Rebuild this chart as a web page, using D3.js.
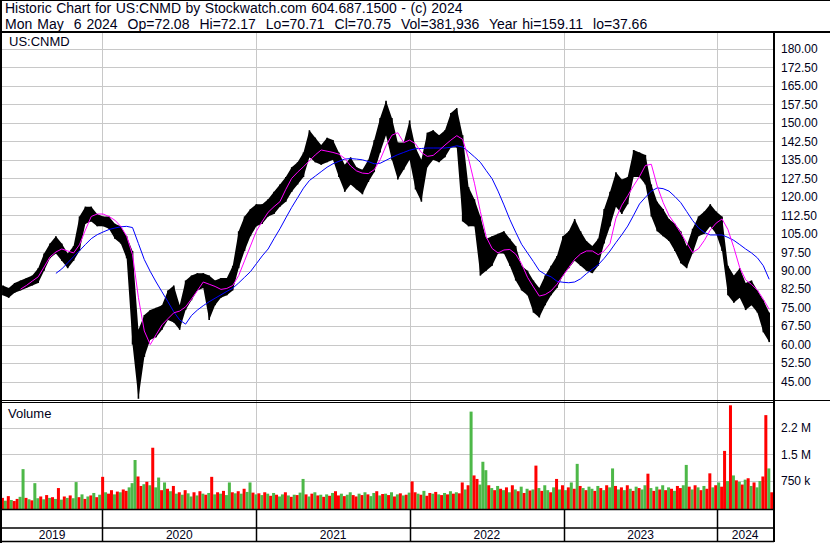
<!DOCTYPE html>
<html><head><meta charset="utf-8">
<script src="https://cdn.jsdelivr.net/npm/d3@7"></script>
<style>
body{margin:0;background:#fff;}
svg{display:block;font-family:Arial,"Liberation Sans",sans-serif;}
text{white-space:pre;}
</style>
</head><body>
<svg id="c" width="830" height="543"></svg>
<script>
// ---------------- data ----------------
const headerLine1 = "Historic Chart for US:CNMD by Stockwatch.com 604.687.1500 - (c) 2024";
const headerLine2 = "Mon May  6 2024  Op=72.08  Hi=72.17  Lo=70.71  Cl=70.75  Vol=381,936  Year hi=159.11  lo=37.66";
const symbol = "US:CNMD";

// price samples, one every 14 days starting at priceStart
const priceStart = "2019-05-10";
const priceStepDays = 14;
const priceHi = [84,83,85,86,87,88,91,97,101,104,
  101,97,100,112,116,116,113,112,112,109,
  108,104,98,66,72,74,75,76,82,84,
  76,86,88,89,89,88,86,87,87,92,
  106,112,115,117,117,119,122,125,128,132,
  134,138,147,144,141,144,143,138,133,136,
  132,131,135,143,152,159,152,142,142,151,
  140,135,146,147,145,147,154,156,145,124,
  119,112,103,104,105,106,103,100,92,90,
  86,83,88,92,96,104,106,111,106,102,
  100,103,115,122,130,127,128,139,138,137,
  125,118,115,111,109,106,100,107,112,114,
  117,114,112,92,88,91,85,86,82,78,
  73];
const priceLo = [80,79,81,82,83,84,85,90,95,97,
  94,91,94,98,109,110,108,108,107,103,
  101,95,60,38,55,62,63,66,70,69,
  66,74,78,82,83,70,76,79,80,82,
  91,98,104,108,109,112,113,116,118,122,
  125,128,136,134,133,134,135,128,122,125,
  123,121,126,130,138,145,135,127,131,135,
  123,118,132,135,134,136,140,140,110,108,
  108,88,90,92,97,97,92,86,82,80,
  73,71,76,80,83,88,91,94,92,90,
  89,92,101,108,116,113,117,128,128,125,
  112,106,104,102,98,93,91,97,104,105,
  108,105,98,80,77,79,74,76,73,65,
  61];
// moving averages read at the same sample dates
const maShort = [null,null,null,82.5,84,85.8,87.5,91.5,95.6,97.6,
  98.8,98,97.2,100.5,106.5,112,113,113,112,110.5,
  108,104,96.5,79,65.5,60,64,68,70.5,72.9,
  73.6,75.3,78.5,81.9,85.4,84.5,83.6,82.4,82.8,84,
  88,94,100,106,110,113.7,116,118,123,127.5,
  130,132.2,134.6,137,139,138.5,138,137.3,135.6,132.5,
  130.5,129.6,129.4,131,135,140.7,145,146,142,143,
  141.5,138,136.4,136.8,138.8,141,143,144.8,143.3,135.5,
  125.5,114,103.7,99,97.2,98.4,98.6,96.7,92.8,87.3,
  83.4,79.7,80.3,81.8,84.5,87.9,91.3,94.6,96.8,98,
  98,96.5,98,101,111.3,116.6,120.4,124.5,128.2,132.7,
  133.2,124.4,117.7,112.4,109,105.3,101.3,97.4,98.9,102.3,
  106.5,109.3,111,106.7,99.4,91.2,86.3,84.4,82.1,78.4,
  74.3];
const maLong = [null,null,null,null,null,null,null,null,null,88.9,
  90.7,93.2,95.7,98.1,100.6,103,104.6,105.7,106.7,107.3,
  107.8,108,107.5,101,94.5,89.7,85.4,81.4,77.4,73.3,
  70,68.3,71.8,74,75.8,77.4,78.8,80.2,81.6,82.9,
  85,87.3,89.6,92.8,96,98.8,103,107,111.4,115.7,
  119.6,123.5,126.6,128.4,130.2,132,133.4,134.4,135.3,135.5,
  135.3,135,134.3,133.4,133.6,134.8,136,137.1,138,138.9,
  139.5,139.6,139.8,139.8,139.8,139.8,140.1,140.7,140.2,138.3,
  136.2,134,130.6,127.3,122.3,116.7,110.8,105.6,100.7,97.2,
  93.7,90,88.5,87.5,85.7,85.3,85.1,85.4,86.7,88.8,
  90.6,92.4,95,98,101.4,104.6,108.1,112.5,117.1,119.8,
  122.3,123.6,123.3,122.3,120.1,117.6,114,110.4,107.4,105.5,
  104.5,104.5,104.5,103.5,102.3,100.6,98.8,97.2,95.2,92,
  86.5];

// weekly peak volume (thousands), one every 7 days from volStart
const volStart = "2019-05-09";
const volStepDays = 7;
const volume = [260,180,310,200,170,230,290,1080,260,220,
  190,680,250,300,220,340,260,280,230,540,
  210,300,260,330,250,710,280,360,230,300,
  330,400,280,350,860,420,380,480,360,440,
  420,500,460,560,680,1340,870,600,650,720,
  620,1690,560,840,480,700,520,450,600,380,
  420,350,480,390,300,420,330,450,380,350,
  400,860,360,420,380,460,340,700,420,390,
  450,380,520,430,700,410,360,390,340,420,
  380,320,400,350,300,360,420,330,290,350,
  340,410,800,360,300,380,420,330,350,290,
  360,320,400,450,330,380,310,350,420,340,
  300,380,340,420,360,310,400,450,330,370,
  380,340,420,300,360,390,330,350,410,730,
  420,380,350,460,320,400,380,430,360,340,
  400,360,450,380,420,390,700,500,620,2720,
  900,800,640,1290,1050,620,540,480,600,520,
  480,560,420,620,500,450,580,400,520,470,
  500,1180,540,460,620,480,420,560,800,500,
  620,480,560,700,520,1230,600,540,480,580,
  520,460,600,540,480,620,560,1100,600,500,
  560,480,620,520,460,580,540,500,620,950,
  540,460,580,500,620,480,560,520,460,600,
  540,620,1200,580,500,620,560,480,600,520,
  960,560,620,700,580,1600,740,2900,900,760,
  720,640,780,820,600,700,560,740,870,2620,
  1100,420];
const volColor = "rgrgrrggrg"+"rggrgrgrgr"+"grgrggrgrg"+"rgrgrgrrgr"+"grrgggrrgr"+
  "grggrgrgrg"+"rgrggrgrgr"+"grgrgrggrg"+"rgrggrgrgr"+"grgrggrgrg"+
  "rggrgrgrgr"+"grgrrgrggr"+"rgrgrggrgr"+"grgrgrgrgr"+"rgrgrrgrgr"+
  "grgrgrrgrg"+"rrgggrgrgr"+"grgrgrgrgr"+"grgrggrgrg"+"rgrgrgrgrg"+
  "grgrgrggrg"+"rgrgrgrggr"+"grgrgrgrgr"+"rggrgrgrgr"+"rgrgrrgrgr"+
  "grgrgrggrr"+"gr";

const priceTicks = [180,172.5,165,157.5,150,142.5,135,127.5,120,112.5,105,97.5,90,82.5,75,67.5,60,52.5,45];
const volTicks = [750000,1500000,2250000];
const volTickLabels = ["750 k","1.5 M","2.2 M"];
const years = [2019,2020,2021,2022,2023,2024];

// ---------------- layout ----------------
const svg = d3.select("#c");
const plotL = 2, plotR = 773;
const priceTop = 33, priceBot = 400;
const volTop = 403, volBot = 509;
const gridCol = "#c8c8c8", txtCol = "#000018";
const upCol = "#4db848", dnCol = "#ff0000";

const x = d3.scaleTime()
  .domain([new Date(2019,4,8), new Date(2024,4,12)])
  .range([plotL, plotR]);
const y = d3.scaleLinear().domain([37.5,187.5]).range([400,30.5]);
const yv = d3.scaleLinear().domain([0,3000000]).range([507,401.8]);

const p0 = d3.timeParse("%Y-%m-%d")(priceStart);
const pDate = i => d3.timeDay.offset(p0, i*priceStepDays);
const v0 = d3.timeParse("%Y-%m-%d")(volStart);
const vDate = i => d3.timeDay.offset(v0, i*volStepDays);

const priceData = priceHi.map((h,i)=>({d:pDate(i), hi:h, lo:priceLo[i], ms:maShort[i], ml:maLong[i]}));
const volData = volume.map((v,i)=>({d:vDate(i), v:v*1000, c:volColor[i]}));

svg.append("rect").attr("width",830).attr("height",543).attr("fill","#fff");

// header texts
svg.append("text").attr("x",5).attr("y",13).attr("font-size",14).attr("word-spacing",0.6).attr("fill",txtCol).text(headerLine1);
svg.append("text").attr("x",5).attr("y",28.5).attr("font-size",14).attr("word-spacing",1.1).attr("fill",txtCol).text(headerLine2);

// grid: horizontal price lines
svg.append("g").selectAll("line").data(priceTicks).join("line")
  .attr("x1",plotL).attr("x2",plotR)
  .attr("y1",d=>Math.round(y(d))+0.5).attr("y2",d=>Math.round(y(d))+0.5)
  .attr("stroke",gridCol);
// grid: volume lines
svg.append("g").selectAll("line").data(volTicks).join("line")
  .attr("x1",plotL).attr("x2",plotR)
  .attr("y1",d=>Math.round(yv(d))+0.5).attr("y2",d=>Math.round(yv(d))+0.5)
  .attr("stroke",gridCol);
// grid: year verticals
const yearBounds = years.slice(1).map(yr=>new Date(yr,0,1));
svg.append("g").selectAll("line").data(yearBounds).join("line")
  .attr("x1",d=>Math.round(x(d))+0.5).attr("x2",d=>Math.round(x(d))+0.5)
  .attr("y1",priceTop).attr("y2",volBot)
  .attr("stroke",gridCol);

// clip
const defs = svg.append("defs");
defs.append("clipPath").attr("id","pclip").append("rect")
  .attr("x",plotL).attr("y",priceTop).attr("width",plotR-plotL).attr("height",priceBot-priceTop);

const pg = svg.append("g").attr("clip-path","url(#pclip)");
// price band
pg.append("path").datum(priceData)
  .attr("d", d3.area().x(d=>x(d.d)).y0(d=>y(d.lo)).y1(d=>y(d.hi)))
  .attr("fill","#000");
pg.append("g").selectAll("line").data(priceData).join("line")
  .attr("x1",d=>x(d.d)).attr("x2",d=>x(d.d))
  .attr("y1",d=>y(d.lo)).attr("y2",d=>y(d.hi))
  .attr("stroke","#000").attr("stroke-width",1.6);
// moving averages
pg.append("path").datum(priceData.filter(d=>d.ml!=null))
  .attr("d", d3.line().x(d=>x(d.d)).y(d=>y(d.ml)))
  .attr("fill","none").attr("stroke","#0000ff").attr("stroke-width",1);
pg.append("path").datum(priceData.filter(d=>d.ms!=null))
  .attr("d", d3.line().x(d=>x(d.d)).y(d=>y(d.ms)))
  .attr("fill","none").attr("stroke","#ff00ff").attr("stroke-width",1);

// volume bars
svg.append("g").selectAll("rect").data(volData).join("rect")
  .attr("x",d=>x(d.d)-1.5).attr("width",3)
  .attr("y",d=>yv(d.v)).attr("height",d=>volBot-yv(d.v))
  .attr("fill",d=>d.c==="g"?upCol:dnCol);

// labels
svg.append("text").attr("x",9).attr("y",45.5).attr("font-size",13).attr("fill",txtCol).text(symbol);
svg.append("text").attr("x",8).attr("y",418).attr("font-size",13).attr("fill",txtCol).text("Volume");

// price axis
const pa = svg.append("g").attr("transform","translate(781,0)")
  .call(d3.axisRight(y).tickValues(priceTicks).tickSize(0).tickPadding(0).tickFormat(d3.format(".2f")));
pa.select(".domain").remove();
pa.selectAll("text").attr("font-size",12).attr("font-family","Arial, 'Liberation Sans', sans-serif").attr("fill",txtCol);

// volume axis
const va = svg.append("g").attr("transform","translate(781,0)")
  .call(d3.axisRight(yv).tickValues(volTicks).tickSize(0).tickPadding(0).tickFormat((d,i)=>volTickLabels[i]));
va.select(".domain").remove();
va.selectAll("text").attr("font-size",12).attr("font-family","Arial, 'Liberation Sans', sans-serif").attr("fill",txtCol);

// frame lines
const blk = (x1,y1,x2,y2,w)=>svg.append("line").attr("x1",x1).attr("y1",y1).attr("x2",x2).attr("y2",y2).attr("stroke","#000").attr("stroke-width",w||1);
blk(0,0.5,830,0.5,1);
blk(1,0,1,543,2);
blk(0,32,830,32,2);
blk(774,32,774,542,2);
blk(0,400.5,830,400.5,1);
blk(0,402.5,774,402.5,1);
blk(0,509.5,774,509.5,1.5);
blk(0,528,774,528,1.5);
blk(0,541.5,774,541.5,1.5);
// year separators in the bottom rows
svg.append("g").selectAll("line").data(yearBounds).join("line")
  .attr("x1",d=>Math.round(x(d))+0.5).attr("x2",d=>Math.round(x(d))+0.5)
  .attr("y1",volBot).attr("y2",541)
  .attr("stroke","#000").attr("stroke-width",1.5);

// year labels
const yearSpans = years.map(yr=>{
  const a = Math.max(plotL, x(new Date(yr,0,1)));
  const b = Math.min(plotR, x(new Date(yr+1,0,1)));
  return {yr, c:(a+b)/2};
});
svg.append("g").selectAll("text").data(yearSpans).join("text")
  .attr("x",d=>d.c).attr("y",538.5).attr("text-anchor","middle")
  .attr("font-size",12).attr("fill",txtCol).text(d=>d.yr);
</script>
</body></html>
